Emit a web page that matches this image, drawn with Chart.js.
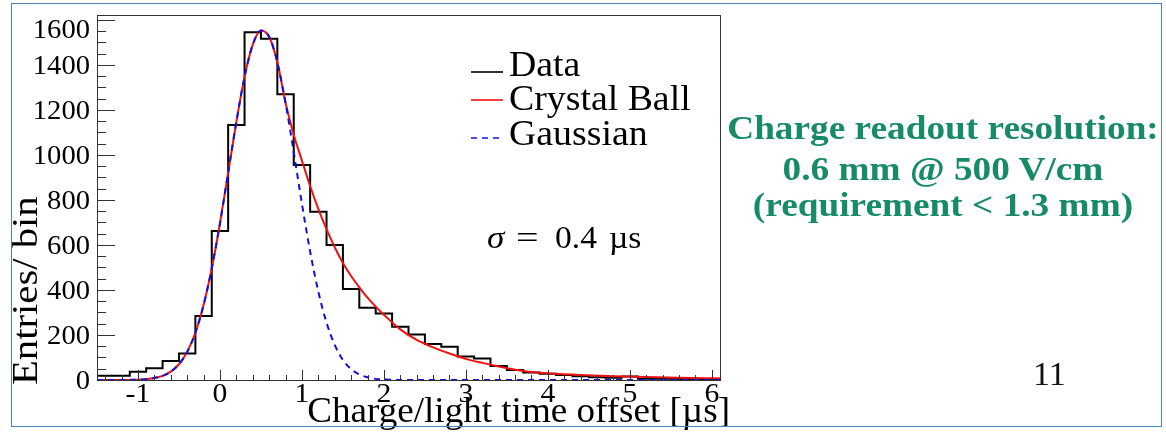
<!DOCTYPE html>
<html><head><meta charset="utf-8">
<script src="https://cdn.jsdelivr.net/npm/chart.js@4/dist/chart.umd.min.js"></script>
<style>
html,body{margin:0;padding:0;background:#fff;}
#wrap{position:relative;width:1166px;height:441px;overflow:hidden;background:#fff;}
canvas{position:absolute;left:0;top:0;}
.frame{position:absolute;left:11px;top:3px;width:1151px;height:424px;box-sizing:border-box;border:1px solid #4F81BD;}
.g{position:absolute;left:643px;width:600px;text-align:center;font-family:"Liberation Serif",serif;font-weight:bold;font-size:33px;line-height:33px;color:#178a68;white-space:nowrap;transform:scaleX(1.13);transform-origin:50% 50%;}
.num{position:absolute;left:1033px;top:357px;font-family:"Liberation Serif",serif;font-size:34px;line-height:34px;color:#111;}
</style></head>
<body><div id="wrap"><canvas id="c" width="1166" height="441"></canvas>
<div class="frame"></div>
<div class="g" style="top:112px">Charge readout resolution:</div>
<div class="g" style="top:153px">0.6 mm @ 500 V/cm</div>
<div class="g" style="top:189px">(requirement &lt; 1.3 mm)</div>
<div class="num">11</div>
</div>
<script>
// ---- data ----
const binEdges = [-1.5,-1.3,-1.1,-0.9,-0.7,-0.5,-0.3,-0.1,0.1,0.3,0.5,0.7,0.9,1.1,1.3,1.5,1.7,1.9,2.1,2.3,2.5,2.7,2.9,3.1,3.3,3.5,3.7,3.9,4.1,4.3,4.5,4.7,4.9,5.1,5.3,5.5,5.7,5.9,6.1];
const counts = [19,19,37,52,84,118,284,662,1133,1545,1516,1270,955,748,600,404,321,296,237,202,160,148,104,96,62,44,33,28,22,17,12,10,15,6,5,4,3,3];
const curveX = [-1.5,-1.2,-1.0,-0.9,-0.8,-0.7,-0.6,-0.5,-0.4,-0.3,-0.2,-0.1,0,0.1,0.2,0.3,0.4,0.5,0.6,0.7,0.8,0.9,1.0,1.1,1.2,1.3,1.4,1.5,1.6,1.7,1.8,1.9,2.0,2.2,2.4,2.6,2.8,3.0,3.2,3.4,3.6,3.8,4.0,4.4,4.8,5.2,5.6,6.1];
const gaussY = [0,0.2,1.6,3.9,8.8,18.5,37,70,125,210,333,496,696,921,1147,1347,1490,1553,1525,1412,1232,1012,783,571,393,255,156,89,48,25,12,5,2,0.3,0,0,0,0,0,0,0,0,0,0,0,0,0,0];
const cbY = [0,0.2,1.6,3.9,8.8,18.5,37,70,125,210,333,496,696,921,1147,1347,1490,1553,1525,1412,1232,1090,975,862,760,670,590,520,462,412,366,326,290,225,178,145,118,94,76,60,46,36,30,22,17,13,10,7.5];
const xTickValues = [-1,0,1,2,3,4,5,6];
const xTickLabels = ['-1','0','1','2','3','4','5','6'];
const yTickValues = [0,200,400,600,800,1000,1200,1400,1600];
const yTickLabels = ['0','200','400','600','800','1000','1200','1400','1600'];
const legendLabels = ['Data','Crystal Ball','Gaussian'];
const xTitle = 'Charge/light time offset [\u00b5s]';
const yTitle = 'Entries/ bin';

const histPoints = binEdges.map((e,i)=>({x:e, y: counts[Math.min(i, counts.length-1)]}));

const SERIF = '"Liberation Serif", "Times New Roman", serif';
function txt(ctx, s, x, yb, align, sx, font) {
  ctx.save(); ctx.font = font; ctx.translate(x, yb); ctx.scale(sx, 1);
  ctx.textAlign = align; ctx.textBaseline = 'alphabetic'; ctx.fillStyle = '#000';
  ctx.fillText(s, 0, 0); ctx.restore();
}

const rootAxes = {
  id: 'rootAxes',
  afterDraw(chart) {
    const {ctx, chartArea: a, scales: {x, y}} = chart;
    ctx.save();
    ctx.strokeStyle = '#333'; ctx.lineWidth = 1;
    ctx.strokeRect(a.left + 0.5, a.top + 0.5, a.right - a.left, a.bottom - a.top);
    ctx.beginPath();
    for (let v = 0; v <= y.max + 1e-6; v += 50) {
      const py = Math.round(y.getPixelForValue(v)) + 0.5;
      const len = (v % 200 === 0) ? 18 : 9;
      ctx.moveTo(a.left, py); ctx.lineTo(a.left + len, py);
    }
    for (let k = -7; k <= 30; k++) {
      const v = k * 0.2;
      if (v < x.min - 1e-6 || v > x.max + 1e-6) continue;
      const px = Math.round(x.getPixelForValue(v)) + 0.5;
      const len = (k % 5 === 0) ? 10 : 5;
      ctx.moveTo(px, a.bottom); ctx.lineTo(px, a.bottom - len);
    }
    ctx.stroke();
    const yf = '27px ' + SERIF;
    yTickValues.forEach((v, i) => {
      const cy = Math.max(y.getPixelForValue(v), a.top + 14);
      txt(ctx, yTickLabels[i], a.left - 7, cy + 9.1, 'right', 1.06, yf);
    });
    const xf = '27px ' + SERIF;
    xTickValues.forEach((v, i) => {
      txt(ctx, xTickLabels[i], x.getPixelForValue(v), 402, 'center', 1.1, xf);
    });
    txt(ctx, xTitle, 730, 422, 'right', 1.03, '36px ' + SERIF);
    ctx.save();
    ctx.translate(37, 385); ctx.rotate(-Math.PI / 2);
    txt(ctx, yTitle, 0, 0, 'left', 1.13, '36px ' + SERIF);
    ctx.restore();
    const lf = '35px ' + SERIF;
    const rows = [
      {yb: 76, ly: 72, color: '#000', dash: []},
      {yb: 110, ly: 100, color: '#f01010', dash: []},
      {yb: 145, ly: 138, color: '#1010e0', dash: [6, 5]}
    ];
    rows.forEach((r, i) => {
      ctx.save();
      ctx.strokeStyle = r.color; ctx.lineWidth = 1.6; ctx.setLineDash(r.dash);
      ctx.beginPath(); ctx.moveTo(471, r.ly); ctx.lineTo(503, r.ly); ctx.stroke();
      ctx.restore();
      txt(ctx, legendLabels[i], 509, r.yb, 'left', 1.08, lf);
    });
    txt(ctx, '\u03c3', 487, 248, 'left', 1.1, 'italic 32px ' + SERIF);
    txt(ctx, '=', 516, 248, 'left', 1.25, '32px ' + SERIF);
    txt(ctx, '0.4', 555, 248, 'left', 1.05, '32px ' + SERIF);
    txt(ctx, '\u00b5s', 609, 248, 'left', 1.05, '32px ' + SERIF);
    ctx.restore();
  }
};

new Chart(document.getElementById('c'), {
  type: 'line',
  data: {
    datasets: [
      {label: 'Gaussian', data: curveX.map((xv, i) => ({x: xv, y: gaussY[i]})), borderColor: '#1010e0', borderWidth: 2, borderDash: [6, 5], pointRadius: 0, cubicInterpolationMode: 'monotone', fill: false},
      {label: 'Crystal Ball', data: curveX.map((xv, i) => ({x: xv, y: cbY[i]})), borderColor: '#f01010', borderWidth: 2, pointRadius: 0, cubicInterpolationMode: 'monotone', fill: false},
      {label: 'Data', data: histPoints, borderColor: '#000', borderWidth: 2, pointRadius: 0, stepped: true, fill: false}
    ]
  },
  options: {
    responsive: false, animation: false, devicePixelRatio: 1, events: [],
    layout: {padding: {left: 97, top: 15, right: 446, bottom: 61}},
    scales: {
      x: {type: 'linear', min: -1.5, max: 6.1, display: false},
      y: {type: 'linear', min: 0, max: 1622, display: false}
    },
    plugins: {legend: {display: false}, tooltip: {enabled: false}}
  },
  plugins: [rootAxes]
});
</script>
</body></html>
